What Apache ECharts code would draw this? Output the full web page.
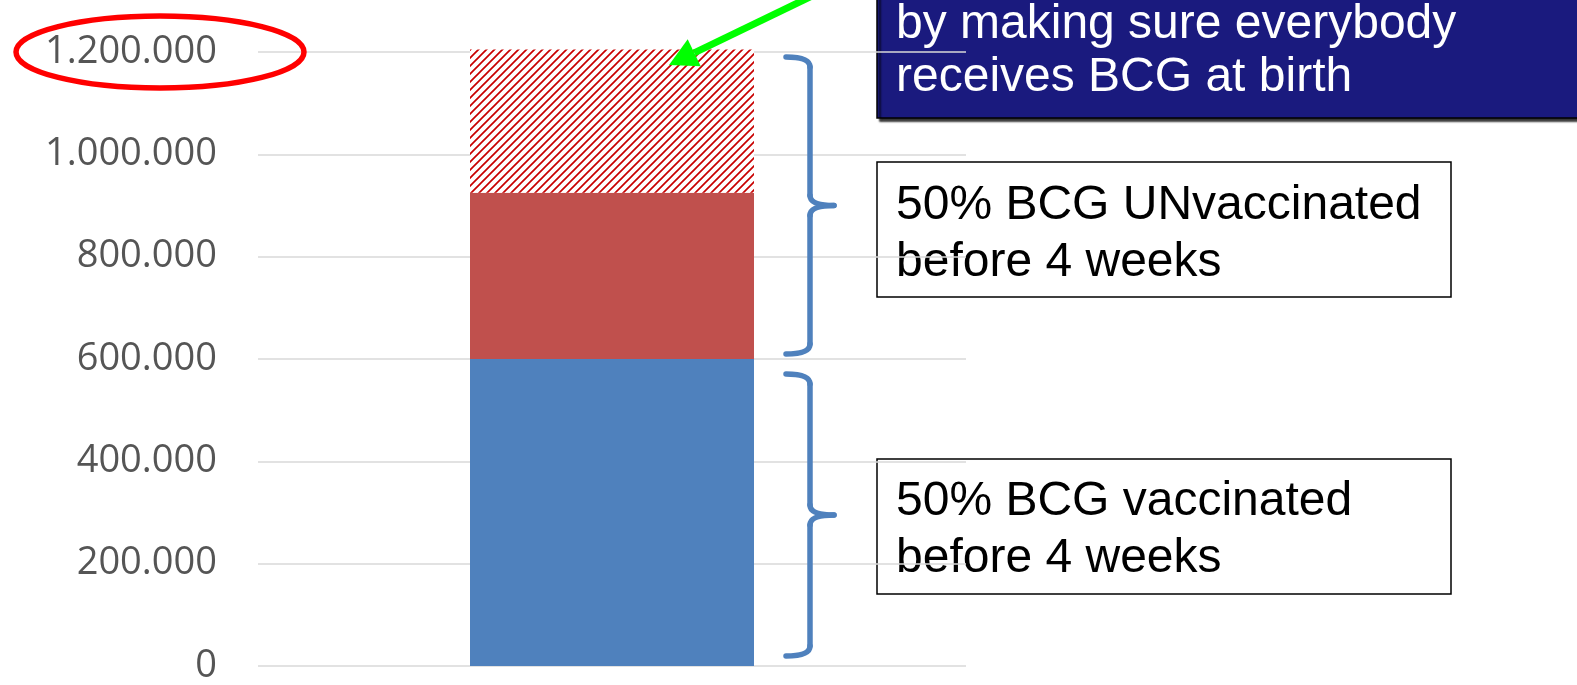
<!DOCTYPE html>
<html>
<head>
<meta charset="utf-8">
<title>BCG</title>
<script src="https://cdn.jsdelivr.net/npm/echarts@6/dist/echarts.min.js"></script>
<style>
  html, body { margin: 0; padding: 0; background: #fff; }
  #chart { width: 1577px; height: 685px; }
</style>
</head>
<body>
<div id="chart"></div>
<script>
// data
var categories = ['']
var vaccinated = [600000]
var unvaccinated = [325000]
var preventable = [280000]
var yMin = 0
var yMax = 1200000
var yStep = 200000

var noteTop = ['by making sure everybody', 'receives BCG at birth']
var noteUnvacc = ['50% BCG UNvaccinated', 'before 4 weeks']
var noteVacc = ['50% BCG vaccinated', 'before 4 weeks']

function fmt(v) {
  return String(v).replace(/\B(?=(\d{3})+(?!\d))/g, '.')
}

function makeHatch() {
  var s = 8
  var c = document.createElement('canvas')
  c.width = s
  c.height = s
  var ctx = c.getContext('2d')
  ctx.fillStyle = '#ffffff'
  ctx.fillRect(0, 0, s, s)
  ctx.strokeStyle = '#c80000'
  ctx.lineWidth = 1.7
  ctx.beginPath()
  ctx.moveTo(-2, s + 2); ctx.lineTo(s + 2, -2)
  ctx.moveTo(-2, 2); ctx.lineTo(2, -2)
  ctx.moveTo(s - 2, s + 2); ctx.lineTo(s + 2, s - 2)
  ctx.stroke()
  return c
}

var chart = echarts.init(document.getElementById('chart'))

chart.setOption({
  animation: false,
  grid: { left: 258, right: 611, top: 52, bottom: 13 },
  xAxis: {
    type: 'category',
    data: categories,
    axisLine: { show: false },
    axisTick: { show: false },
    axisLabel: { show: false }
  },
  yAxis: {
    type: 'value',
    min: yMin,
    max: yMax,
    interval: yStep,
    axisLine: { show: false },
    axisTick: { show: false },
    axisLabel: {
      margin: 41,
      color: '#555555',
      fontSize: 38,
      fontFamily: 'Open Sans',
      formatter: fmt
    },
    splitLine: { lineStyle: { color: '#d9d9d9', width: 1.5 } }
  },
  series: [
    {
      name: 'vaccinated',
      type: 'bar',
      stack: 'all',
      barWidth: 284,
      clip: false,
      data: vaccinated,
      itemStyle: { color: '#4f81bd' }
    },
    {
      name: 'unvaccinated',
      type: 'bar',
      stack: 'all',
      barWidth: 284,
      clip: false,
      data: unvaccinated,
      itemStyle: { color: '#c0504d' }
    },
    {
      name: 'preventable',
      type: 'bar',
      stack: 'all',
      barWidth: 284,
      clip: false,
      data: preventable,
      itemStyle: { color: { image: makeHatch(), repeat: 'repeat' } }
    }
  ]
})

// annotations, placed from axis values
function py(v) {
  return chart.convertToPixel({ yAxisIndex: 0 }, v)
}

var braceStyle = { stroke: '#4f81bd', lineWidth: 5.5, lineCap: 'round', fill: null }

function brace(x0, xm, xt, y1, y2) {
  var ym = (y1 + y2) / 2
  var r = 10
  function curve(ax, ay, cx, cy, bx, by) {
    return {
      type: 'bezierCurve', z: 10,
      shape: { x1: ax, y1: ay, cpx1: cx, cpy1: cy, x2: bx, y2: by },
      style: braceStyle
    }
  }
  function seg(ax, ay, bx, by) {
    return {
      type: 'line', z: 10,
      shape: { x1: ax, y1: ay, x2: bx, y2: by },
      style: braceStyle
    }
  }
  return {
    type: 'group',
    children: [
      curve(x0, y1, xm, y1, xm, y1 + r),
      seg(xm, y1 + r, xm, ym - r),
      curve(xm, ym - r, xm, ym, xt, ym),
      curve(xt, ym, xm, ym, xm, ym + r),
      seg(xm, ym + r, xm, y2 - r),
      curve(xm, y2 - r, xm, y2, x0, y2)
    ]
  }
}

function noteBox(x, y, w, h, lines, bg, fg, shadow, textTop, lh) {
  return {
    type: 'group',
    x: x,
    y: y,
    z: -1,
    children: [
      {
        type: 'rect',
        z: -1,
        shape: { x: 0, y: 0, width: w, height: h },
        style: {
          fill: bg,
          stroke: '#000',
          lineWidth: 1.5,
          shadowColor: shadow ? 'rgba(0,0,0,0.8)' : null,
          shadowOffsetX: shadow ? 3 : 0,
          shadowOffsetY: shadow ? 3 : 0,
          shadowBlur: shadow ? 2 : 0
        }
      },
      {
        type: 'text',
        z: -1,
        x: 19,
        y: textTop,
        style: {
          text: lines.join('\n'),
          fill: fg,
          font: '48px "Liberation Sans", Arial, sans-serif',
          lineHeight: lh,
          verticalAlign: 'top'
        }
      }
    ]
  }
}

var yTop = py(yMax)
var yMid = py(vaccinated[0])
var yZero = py(0)

var arrowTip = [669, 65]
var arrowTail = [812, -4]
var ang = Math.atan2(arrowTail[1] - arrowTip[1], arrowTail[0] - arrowTip[0])
var headLen = 28
var headW = 15
var bx = arrowTip[0] + Math.cos(ang) * headLen
var by = arrowTip[1] + Math.sin(ang) * headLen

chart.setOption({
  graphic: [
    noteBox(877, -60, 720, 178, noteTop, '#1a1a7e', '#ffffff', true, 58, 53),
    noteBox(877, 162, 574, 135, noteUnvacc, '#ffffff', '#000000', false, 15, 57),
    noteBox(877, 459, 574, 135, noteVacc, '#ffffff', '#000000', false, 14, 57),
    brace(786, 810, 834, yTop + 5, yMid - 5),
    brace(786, 810, 834, yMid + 15, yZero - 10),
    {
      type: 'ellipse',
      z: 10,
      shape: { cx: 160, cy: yTop, rx: 144, ry: 36 },
      style: { fill: null, stroke: '#ff0000', lineWidth: 5.5 }
    },
    {
      type: 'line',
      z: 10,
      shape: { x1: arrowTail[0], y1: arrowTail[1], x2: bx, y2: by },
      style: { stroke: '#00ff00', lineWidth: 7 }
    },
    {
      type: 'polygon',
      z: 10,
      shape: {
        points: [
          arrowTip,
          [bx + Math.sin(ang) * headW, by - Math.cos(ang) * headW],
          [bx - Math.sin(ang) * headW, by + Math.cos(ang) * headW]
        ]
      },
      style: { fill: '#00ff00' }
    }
  ]
})
</script>
</body>
</html>
